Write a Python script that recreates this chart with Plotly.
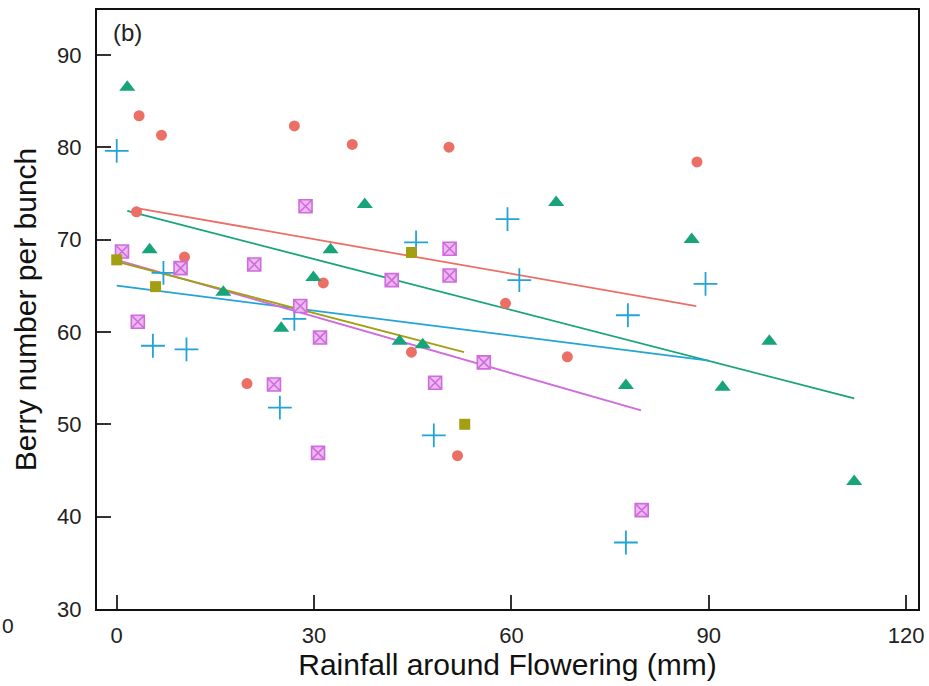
import plotly.graph_objects as go

# ---- data ----
red_x = [3.4, 6.8, 27.0, 35.8, 3.0, 10.3, 31.4, 50.5, 88.2, 59.1, 19.8, 44.8, 68.5, 51.8]
red_y = [83.4, 81.3, 82.3, 80.3, 73.0, 68.1, 65.3, 80.0, 78.4, 63.1, 54.4, 57.8, 57.3, 46.6]

green_x = [1.6, 37.7, 5.0, 32.5, 29.9, 16.2, 66.8, 87.4, 25.0, 43.0, 46.5, 77.4, 99.2, 92.1, 112.1]
green_y = [86.5, 73.8, 68.9, 68.9, 65.9, 64.3, 74.0, 70.0, 60.4, 59.0, 58.6, 54.2, 59.0, 54.0, 43.8]

blue_x = [0.0, 7.1, 45.5, 59.4, 61.2, 89.5, 77.7, 27.0, 5.5, 10.6, 24.8, 48.2, 77.4]
blue_y = [79.6, 66.4, 69.7, 72.2, 65.6, 65.2, 61.8, 61.4, 58.5, 58.1, 51.8, 48.8, 37.2]

magenta_x = [28.7, 0.8, 9.7, 20.9, 41.8, 27.9, 50.6, 50.6, 3.2, 30.9, 23.9, 30.6, 55.8, 48.4, 79.8]
magenta_y = [73.6, 68.7, 66.9, 67.3, 65.6, 62.8, 69.0, 66.1, 61.1, 59.4, 54.3, 46.9, 56.7, 54.5, 40.7]

olive_x = [0.0, 5.9, 44.8, 52.9]
olive_y = [67.8, 64.9, 68.6, 50.0]

# fitted trend lines (end points)
red_fit_x = [3.0, 88.1]
red_fit_y = [73.4, 62.8]
green_fit_x = [1.6, 112.1]
green_fit_y = [73.1, 52.8]
blue_fit_x = [0.0, 90.0]
blue_fit_y = [65.0, 56.9]
magenta_fit_x = [0.0, 79.7]
magenta_fit_y = [67.8, 51.5]
olive_fit_x = [0.0, 52.8]
olive_fit_y = [67.6, 57.8]

x_ticks = [0, 30, 60, 90, 120]
y_ticks = [30, 40, 50, 60, 70, 80, 90]

C_RED = "#EC6F66"
C_GREEN = "#17A47B"
C_BLUE = "#22A4D6"
C_MAG = "#CF6BDC"
C_MAG_FILL = "#EDB9F1"
C_OLIVE = "#A39E12"

FONT = "Liberation Sans, Arial, sans-serif"

fig = go.Figure()

# lines
for fx, fy, c in [
    (red_fit_x, red_fit_y, C_RED),
    (green_fit_x, green_fit_y, C_GREEN),
    (blue_fit_x, blue_fit_y, C_BLUE),
    (magenta_fit_x, magenta_fit_y, C_MAG),
    (olive_fit_x, olive_fit_y, C_OLIVE),
]:
    fig.add_trace(go.Scatter(x=fx, y=fy, mode="lines",
                             line=dict(color=c, width=1.8), showlegend=False))

fig.add_trace(go.Scatter(x=red_x, y=red_y, mode="markers", showlegend=False,
                         marker=dict(symbol="circle", size=11, color=C_RED)))
fig.add_trace(go.Scatter(x=green_x, y=green_y, mode="markers", showlegend=False,
                         marker=dict(symbol="triangle-up", size=14, color=C_GREEN)))
fig.add_trace(go.Scatter(x=blue_x, y=blue_y, mode="markers", showlegend=False,
                         marker=dict(symbol="cross-thin", size=17, color=C_BLUE,
                                     line=dict(color=C_BLUE, width=1.8))))
fig.add_trace(go.Scatter(x=magenta_x, y=magenta_y, mode="markers", showlegend=False,
                         marker=dict(symbol="square-x", size=13, color=C_MAG_FILL,
                                     line=dict(color=C_MAG, width=1.6))))
fig.add_trace(go.Scatter(x=olive_x, y=olive_y, mode="markers", showlegend=False,
                         marker=dict(symbol="square", size=11, color=C_OLIVE)))

axis_common = dict(
    showgrid=False, zeroline=False,
    showline=True, linecolor="#111111", linewidth=2.2, mirror=True,
    ticks="inside", ticklen=14, tickwidth=1.5, tickcolor="#333333",
    tickfont=dict(family=FONT, size=22, color="#222222"),
    title_font=dict(family=FONT, size=30, color="#111111"),
)

fig.update_xaxes(range=[-3, 121.8], tickvals=x_ticks,
                 title_text="Rainfall around Flowering (mm)", title_standoff=4,
                 ticklabelstandoff=5, **axis_common)
fig.update_yaxes(range=[30, 94.85], tickvals=y_ticks,
                 title_text="Berry number per bunch", title_standoff=12,
                 ticklabelstandoff=9, **axis_common)

fig.add_annotation(text="(b)", xref="paper", yref="paper", x=0.017, y=0.962,
                   xanchor="left", yanchor="middle", showarrow=False,
                   font=dict(family=FONT, size=24, color="#222222"))
fig.add_annotation(text="0", xref="paper", yref="paper", x=-0.1084, y=-0.027,
                   xanchor="center", yanchor="middle", showarrow=False,
                   font=dict(family=FONT, size=21, color="#222222"))

fig.update_layout(
    width=929, height=686,
    margin=dict(l=97, r=11, t=10, b=77, autoexpand=False),
    plot_bgcolor="white", paper_bgcolor="white",
    font=dict(family=FONT),
)

fig.write_html("out.html")
